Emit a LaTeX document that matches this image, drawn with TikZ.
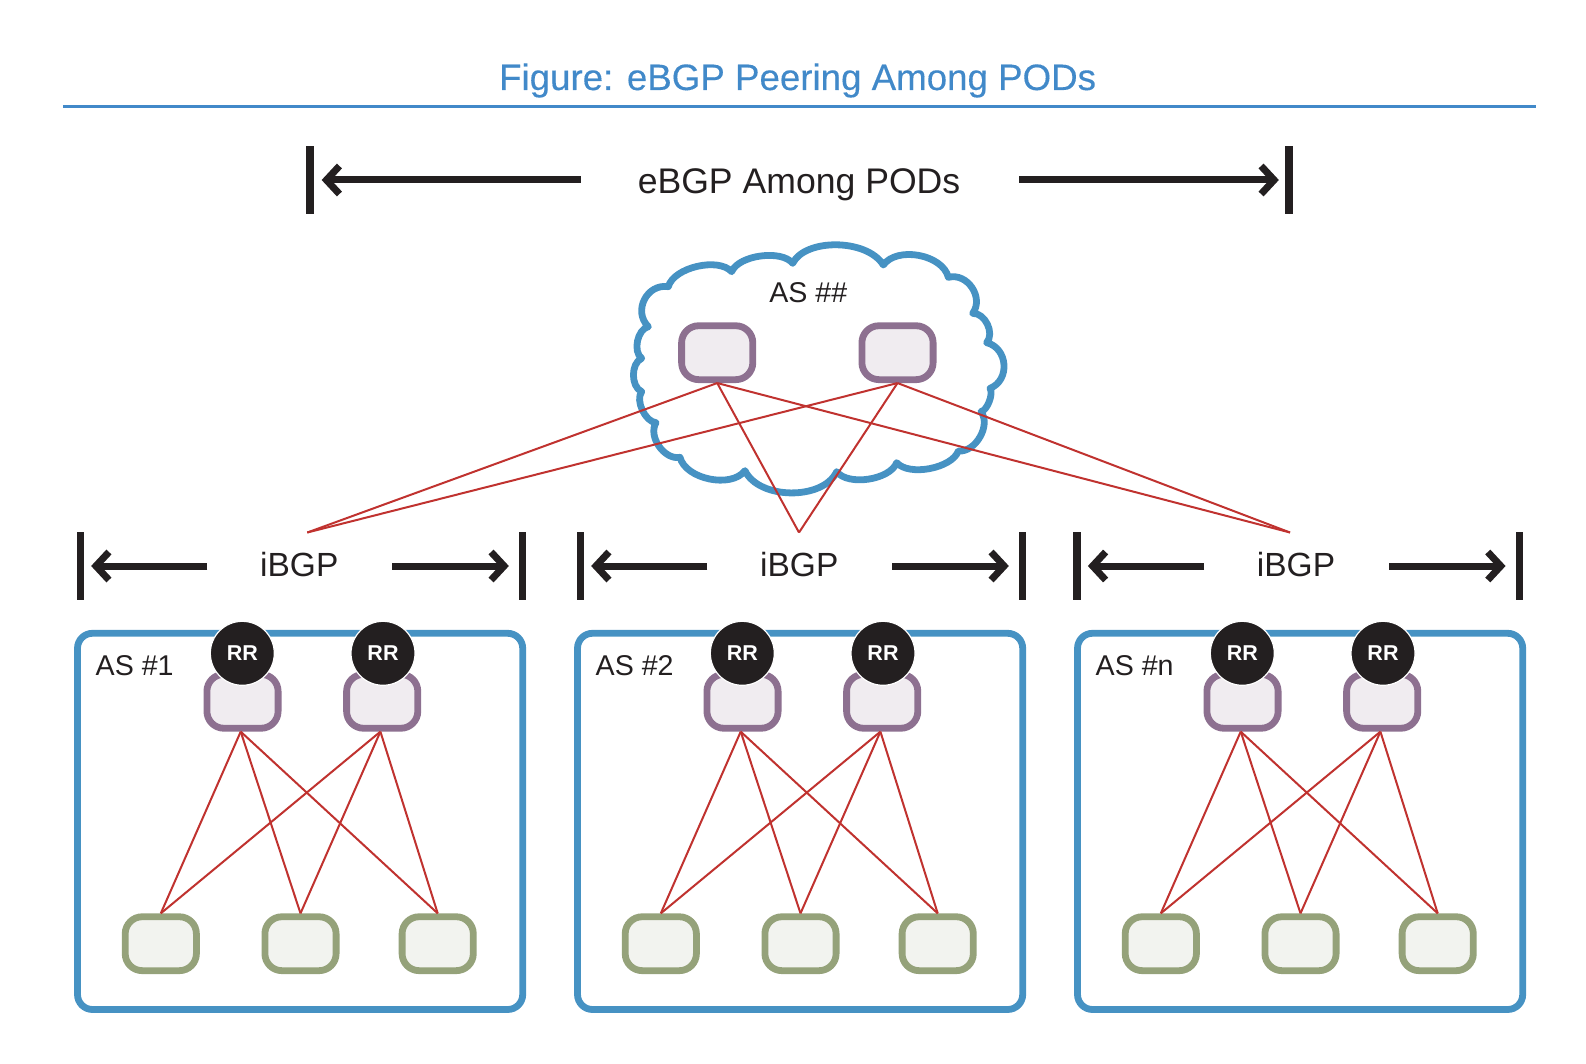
\documentclass[tikz,border=0pt]{standalone}
\usepackage{fontspec}
\setmainfont{Liberation Sans}
\newfontfamily\titlefont[FakeBold=0.25]{Liberation Sans}
\usetikzlibrary{arrows.meta}
\definecolor{mblue}{HTML}{4692C3}
\definecolor{mtitle}{HTML}{4189C9}
\definecolor{mpurp}{HTML}{8D7090}
\definecolor{mpurpfill}{HTML}{F0ECF0}
\definecolor{mgreen}{HTML}{95A27A}
\definecolor{mgreenfill}{HTML}{F2F3EF}
\definecolor{mblack}{HTML}{231F20}
\definecolor{mred}{HTML}{C0322F}
\tikzstyle{podbox} = [rectangle, rounded corners=15pt, minimum width=445.2pt, minimum height=376.2pt, inner sep=0pt, line width=6.8pt, draw=mblue, fill=white]
\tikzstyle{spine} = [rectangle, rounded corners=17pt, minimum width=71.2pt, minimum height=53.9pt, inner sep=0pt, line width=6.8pt, draw=mpurp, fill=mpurpfill]
\tikzstyle{leaf} = [rectangle, rounded corners=17pt, minimum width=71.2pt, minimum height=53.9pt, inner sep=0pt, line width=6.8pt, draw=mgreen, fill=mgreenfill]
\tikzstyle{rrmark} = [circle, minimum size=64pt, inner sep=0pt, line width=1.2pt, draw=white, fill=mblack, text=white, font=\fontsize{21.5}{24}\selectfont\bfseries]
\tikzstyle{bar} = [rectangle, minimum width=7.3pt, minimum height=67.6pt, inner sep=0pt, fill=mblack]
\tikzstyle{span} = [line width=7pt, draw=mblack, -{Straight Barb[length=13pt,width=28pt]}]
\tikzstyle{peer} = [line width=2pt, draw=mred]
\tikzstyle{bigtext} = [anchor=base, inner sep=0pt, text=mblack]
\tikzstyle{astext} = [inner sep=0pt, text=mblack, font=\fontsize{28.6}{32}\selectfont]
\begin{document}
\begin{tikzpicture}[x=1pt,y=-1pt]
  \useasboundingbox (0,0) rectangle (1586,1064);
  \node (title) [anchor=base, inner sep=0pt, text=mtitle, font=\fontsize{36.7}{40}\titlefont] at (797.6,90) {Figure: eBGP Peering Among PODs};
  \coordinate (rulel) at (62.8,106.3);
  \coordinate (ruler) at (1535.8,106.3);
  \draw [line width=2.7pt, mtitle] (rulel) -- (ruler);
  % top span
  \node (ebgp) [bigtext, font=\fontsize{35.6}{40}\selectfont] at (799,193.3) {eBGP Among PODs};
  \node (topl) [bar] at (310,180) {};
  \node (topr) [bar] at (1289,180) {};
  \coordinate (topls) at (580.5,180);
  \coordinate (toprs) at (1019,180);
  \draw [span, shorten >=7.8pt] (topls) -- (topl.east);
  \draw [span, shorten >=6.3pt] (toprs) -- (topr.west);
  % cloud
  \begin{scope}[shift={(600,220)}, x=0.33333pt, y=-0.33333pt]
    \draw [line width=6.8pt, mblue, line join=round] (578,130)
      .. controls (615,55) and (800,55) .. (850,135)
      .. controls (891,78) and (1028,103) .. (1045,172)
      .. controls (1102,157) and (1153,233) .. (1118,280)
      .. controls (1155,278) and (1185,340) .. (1160,368)
      .. controls (1224,384) and (1231,481) .. (1170,505)
      .. controls (1181,521) and (1162,571) .. (1143,575)
      .. controls (1174,616) and (1126,698) .. (1075,693)
      .. controls (1056,745) and (927,770) .. (890,728)
      .. controls (870,780) and (744,799) .. (710,755)
      .. controls (669,842) and (476,839) .. (435,752)
      .. controls (394,806) and (257,778) .. (240,712)
      .. controls (193,721) and (143,649) .. (168,608)
      .. controls (136,606) and (105,541) .. (125,515)
      .. controls (92,500) and (92,430) .. (125,415)
      .. controls (98,395) and (112,328) .. (145,320)
      .. controls (98,274) and (140,190) .. (205,200)
      .. controls (221,142) and (355,111) .. (395,155)
      .. controls (416,105) and (545,88) .. (578,130) -- cycle;
  \end{scope}
  \node (asc) [astext, anchor=base] at (808.3,302.7) {AS \#\#};
  \node (corea) [spine] at (717.2,352.7) {};
  \node (coreb) [spine] at (897.5,352.7) {};
  % one pod per loop
  \foreach \pod/\dx/\hx/\tx/\lab in {1/0/0/307.3/AS \#1, 2/500/500/799/AS \#2, n/1000/996.7/1290/AS \#n} {
    \node (box\pod) [podbox] at (300.1+\dx,821.4) {};
    \node (as\pod) [astext, anchor=base west] at (95.5+\dx,675) {\lab};
    \node (spa\pod) [spine] at (242.5+\dx,701.3) {};
    \node (spb\pod) [spine] at (382.2+\dx,701.3) {};
    \node (rra\pod) [rrmark] at (242.3+\dx,653.3) {RR};
    \node (rrb\pod) [rrmark] at (383+\dx,653.3) {RR};
    \node (lfa\pod) [leaf] at (160.8+\dx,943.7) {};
    \node (lfb\pod) [leaf] at (300.5+\dx,943.7) {};
    \node (lfc\pod) [leaf] at (437.7+\dx,943.7) {};
    \foreach \s in {spa,spb} \foreach \l in {lfa,lfb,lfc}
      \draw [peer] ([xshift=-1.8pt]\s\pod.south) -- (\l\pod.north);
    % ibgp span
    \node (ibgp\pod) [bigtext, font=\fontsize{33.5}{38}\selectfont] at (299.3+\hx,576) {iBGP};
    \node (barl\pod) [bar] at (80.3+\hx,566) {};
    \node (barr\pod) [bar] at (522.7+\hx,566) {};
    \coordinate (startl\pod) at (207.3+\hx,566);
    \coordinate (startr\pod) at (392.3+\hx,566);
    \draw [span, shorten >=7pt] (startl\pod) -- (barl\pod.east);
    \draw [span, shorten >=10pt] (startr\pod) -- (barr\pod.west);
    \coordinate (tip\pod) at (\tx,532.5);
    \foreach \s in {corea,coreb}
      \draw [peer] (\s.south) -- (tip\pod);
  }
\end{tikzpicture}
\end{document}
